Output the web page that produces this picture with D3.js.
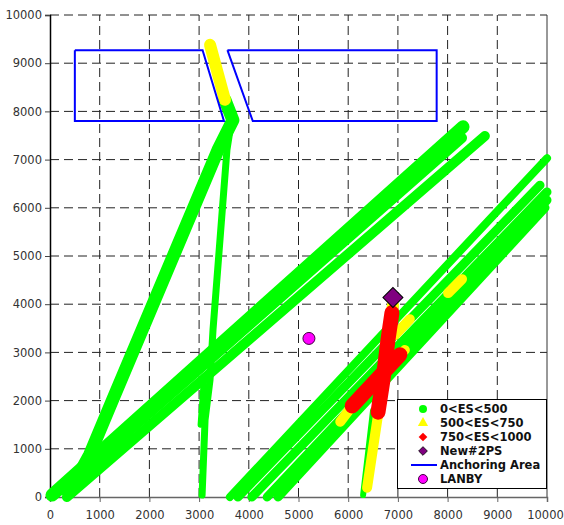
<!DOCTYPE html>
<html><head><meta charset="utf-8">
<script src="https://cdn.jsdelivr.net/npm/d3@7/dist/d3.min.js"></script>
<style>body{margin:0;background:#fff}svg{display:block}</style>
</head><body>
<script>
// ---- data ----
const xTicks = [0,1000,2000,3000,4000,5000,6000,7000,8000,9000,10000];
const yTicks = [0,1000,2000,3000,4000,5000,6000,7000,8000,9000,10000];

// 0<ES<500 tracks (polylines of dense points)
const greenTracks = [
  [[500,310],[800,880],[1250,1990],[3380,7200],[3680,7820],[3520,8240]],
  [[3060,40],[3120,1600],[3220,2430],[3280,3470],[3560,7200],[3660,7860]],
  [[40,40],[8310,7680]],
  [[240,140],[8290,7450]],
  [[340,0],[8750,7490]],
  [[3620,0],[10000,7030]],
  [[3780,0],[9860,6470]],
  [[4060,0],[10000,6330]],
  [[4370,0],[10000,6160]],
  [[4590,0],[9960,6000]],
  [[6500,1800],[6300,40]],
  [[3030,1500],[3100,2500]]
];
// 500<ES<750 tracks
const yellowTracks = [
  [[3520,8240],[3220,9380]],
  [[6600,1700],[6380,190]],
  [[5840,1560],[6080,1890]],
  [[6880,3820],[6900,3980]],
  [[6940,3360],[7240,3690]],
  [[8010,4230],[8290,4520]],
  [[7040,2950],[7140,3050]]
];
// 750<ES<1000 tracks
const redTracks = [
  [[6880,3820],[6800,3260],[6700,2430],[6600,1760]],
  [[6080,1890],[7040,2950]]
];
const newPS = [[6900,4140]];
const lanby = [[5210,3290]];
const anchoringArea = [
  [[500,9270],[3070,9270],[3500,7800],[500,7800],[500,9270]],
  [[3570,9270],[7780,9270],[7780,7800],[4080,7800],[3570,9270]]
];
const legendLabels = ["0<ES<500","500<ES<750","750<ES<1000","New#2PS","Anchoring Area","LANBY"];

// ---- styles ----
const greenWidths = [13,7,13,10,10,8,9,9,9,9,6,6];
const yellowWidths = [12,10,10,12,10,10,10];
const redWidths = [15,15];

const W = 564, H = 525;
const svg = d3.select("body").append("svg").attr("width", W).attr("height", H);
const x = d3.scaleLinear().domain([0,10000]).range([50,547]);
const y = d3.scaleLinear().domain([0,10000]).range([497,15]);

// grid
const grid = svg.append("g");
grid.selectAll(".vg").data(xTicks.filter(d => d > 0 && d < 10000)).enter().append("line")
  .attr("x1", d => x(d)).attr("x2", d => x(d)).attr("y1", y(0)).attr("y2", y(10000))
  .attr("stroke", "#222").attr("stroke-width", 1).attr("stroke-dasharray", "9,5");
grid.selectAll(".hg").data(yTicks.filter(d => d > 0)).enter().append("line")
  .attr("x1", x(0)).attr("x2", x(10000)).attr("y1", d => y(d)).attr("y2", d => y(d))
  .attr("stroke", "#222").attr("stroke-width", 1).attr("stroke-dasharray", "9,5");
// right border
svg.append("line").attr("x1", x(10000)).attr("x2", x(10000)).attr("y1", y(10000)).attr("y2", y(0))
  .attr("stroke", "#333").attr("stroke-width", 1);

// axes
const xAxis = d3.axisBottom(x).tickValues(xTicks).tickSize(5).tickPadding(9).tickFormat(d3.format("d"));
const yAxis = d3.axisLeft(y).tickValues(yTicks).tickSize(5).tickPadding(3).tickFormat(d3.format("d"));
const gx = svg.append("g").attr("transform", `translate(0,${y(0)})`).call(xAxis);
const gy = svg.append("g").attr("transform", `translate(${x(0)},0)`).call(yAxis);
gx.select(".domain").attr("stroke", "#666").attr("stroke-width", 1.5);
gx.selectAll(".tick line").attr("stroke", "#666");
gy.select(".domain").attr("stroke", "#000").attr("stroke-width", 1.5);
gy.selectAll(".tick line").attr("stroke", "#444");
[gx, gy].forEach(g => g.selectAll("text").attr("font-family", "DejaVu Sans, sans-serif")
  .attr("font-size", 11.5).attr("fill", "#333"));
gx.selectAll(".tick text").filter(d => d === 10000).attr("dx", "-2");

// tracks
const line = d3.line().x(d => x(d[0])).y(d => y(d[1]));
function drawTracks(data, widths, color) {
  svg.append("g").selectAll("path").data(data).enter().append("path")
    .attr("d", line).attr("fill", "none").attr("stroke", color)
    .attr("stroke-width", (d, i) => widths[i])
    .attr("stroke-linecap", "round").attr("stroke-linejoin", "round");
}
drawTracks(greenTracks, greenWidths, "#00ff00");
drawTracks(yellowTracks, yellowWidths, "#ffff00");
drawTracks(redTracks, redWidths, "#ff0000");

// New#2PS
const diamond = d3.symbol().type(d3.symbolSquare).size(200);
svg.append("g").selectAll("path").data(newPS).enter().append("path")
  .attr("d", diamond).attr("transform", d => `translate(${x(d[0])},${y(d[1])}) rotate(45)`)
  .attr("fill", "#800080").attr("stroke", "#000").attr("stroke-width", 1);

// anchoring area
svg.append("g").selectAll("path").data(anchoringArea).enter().append("path")
  .attr("d", line).attr("fill", "none").attr("stroke", "#0000ff").attr("stroke-width", 2);

// LANBY
svg.append("g").selectAll("circle").data(lanby).enter().append("circle")
  .attr("cx", d => x(d[0])).attr("cy", d => y(d[1])).attr("r", 6)
  .attr("fill", "#ff00ff").attr("stroke", "#400040").attr("stroke-width", 1);

// legend
const lg = svg.append("g");
lg.append("rect").attr("x", 397.5).attr("y", 399.5).attr("width", 149).attr("height", 89)
  .attr("fill", "#fff").attr("stroke", "#000").attr("stroke-width", 1);
const rows = lg.selectAll("g").data(legendLabels).enter().append("g")
  .attr("transform", (d, i) => `translate(0,${409 + i * 14})`);
rows.append("text").attr("x", 440).attr("y", 0).attr("dy", "0.36em")
  .attr("font-family", "DejaVu Sans, sans-serif").attr("font-weight", "bold")
  .attr("font-size", 11.5).attr("fill", "#111").text(d => d);
rows.each(function(d, i) {
  const g = d3.select(this);
  if (i === 0) g.append("circle").attr("cx", 423).attr("cy", 0).attr("r", 4).attr("fill", "#00ff00");
  if (i === 1) g.append("path").attr("d", d3.symbol().type(d3.symbolTriangle).size(45))
    .attr("transform", "translate(423,0)").attr("fill", "#ffff00");
  if (i === 2) g.append("path").attr("d", d3.symbol().type(d3.symbolSquare).size(38))
    .attr("transform", "translate(423,0) rotate(45)").attr("fill", "#ff0000");
  if (i === 3) g.append("path").attr("d", d3.symbol().type(d3.symbolSquare).size(38))
    .attr("transform", "translate(423,0) rotate(45)").attr("fill", "#800080").attr("stroke", "#000").attr("stroke-width", 0.8);
  if (i === 4) g.append("line").attr("x1", 411).attr("x2", 437).attr("y1", 0).attr("y2", 0)
    .attr("stroke", "#0000ff").attr("stroke-width", 2);
  if (i === 5) g.append("circle").attr("cx", 423).attr("cy", 0).attr("r", 4.5)
    .attr("fill", "#ff00ff").attr("stroke", "#400040").attr("stroke-width", 1);
});
</script>
</body></html>
